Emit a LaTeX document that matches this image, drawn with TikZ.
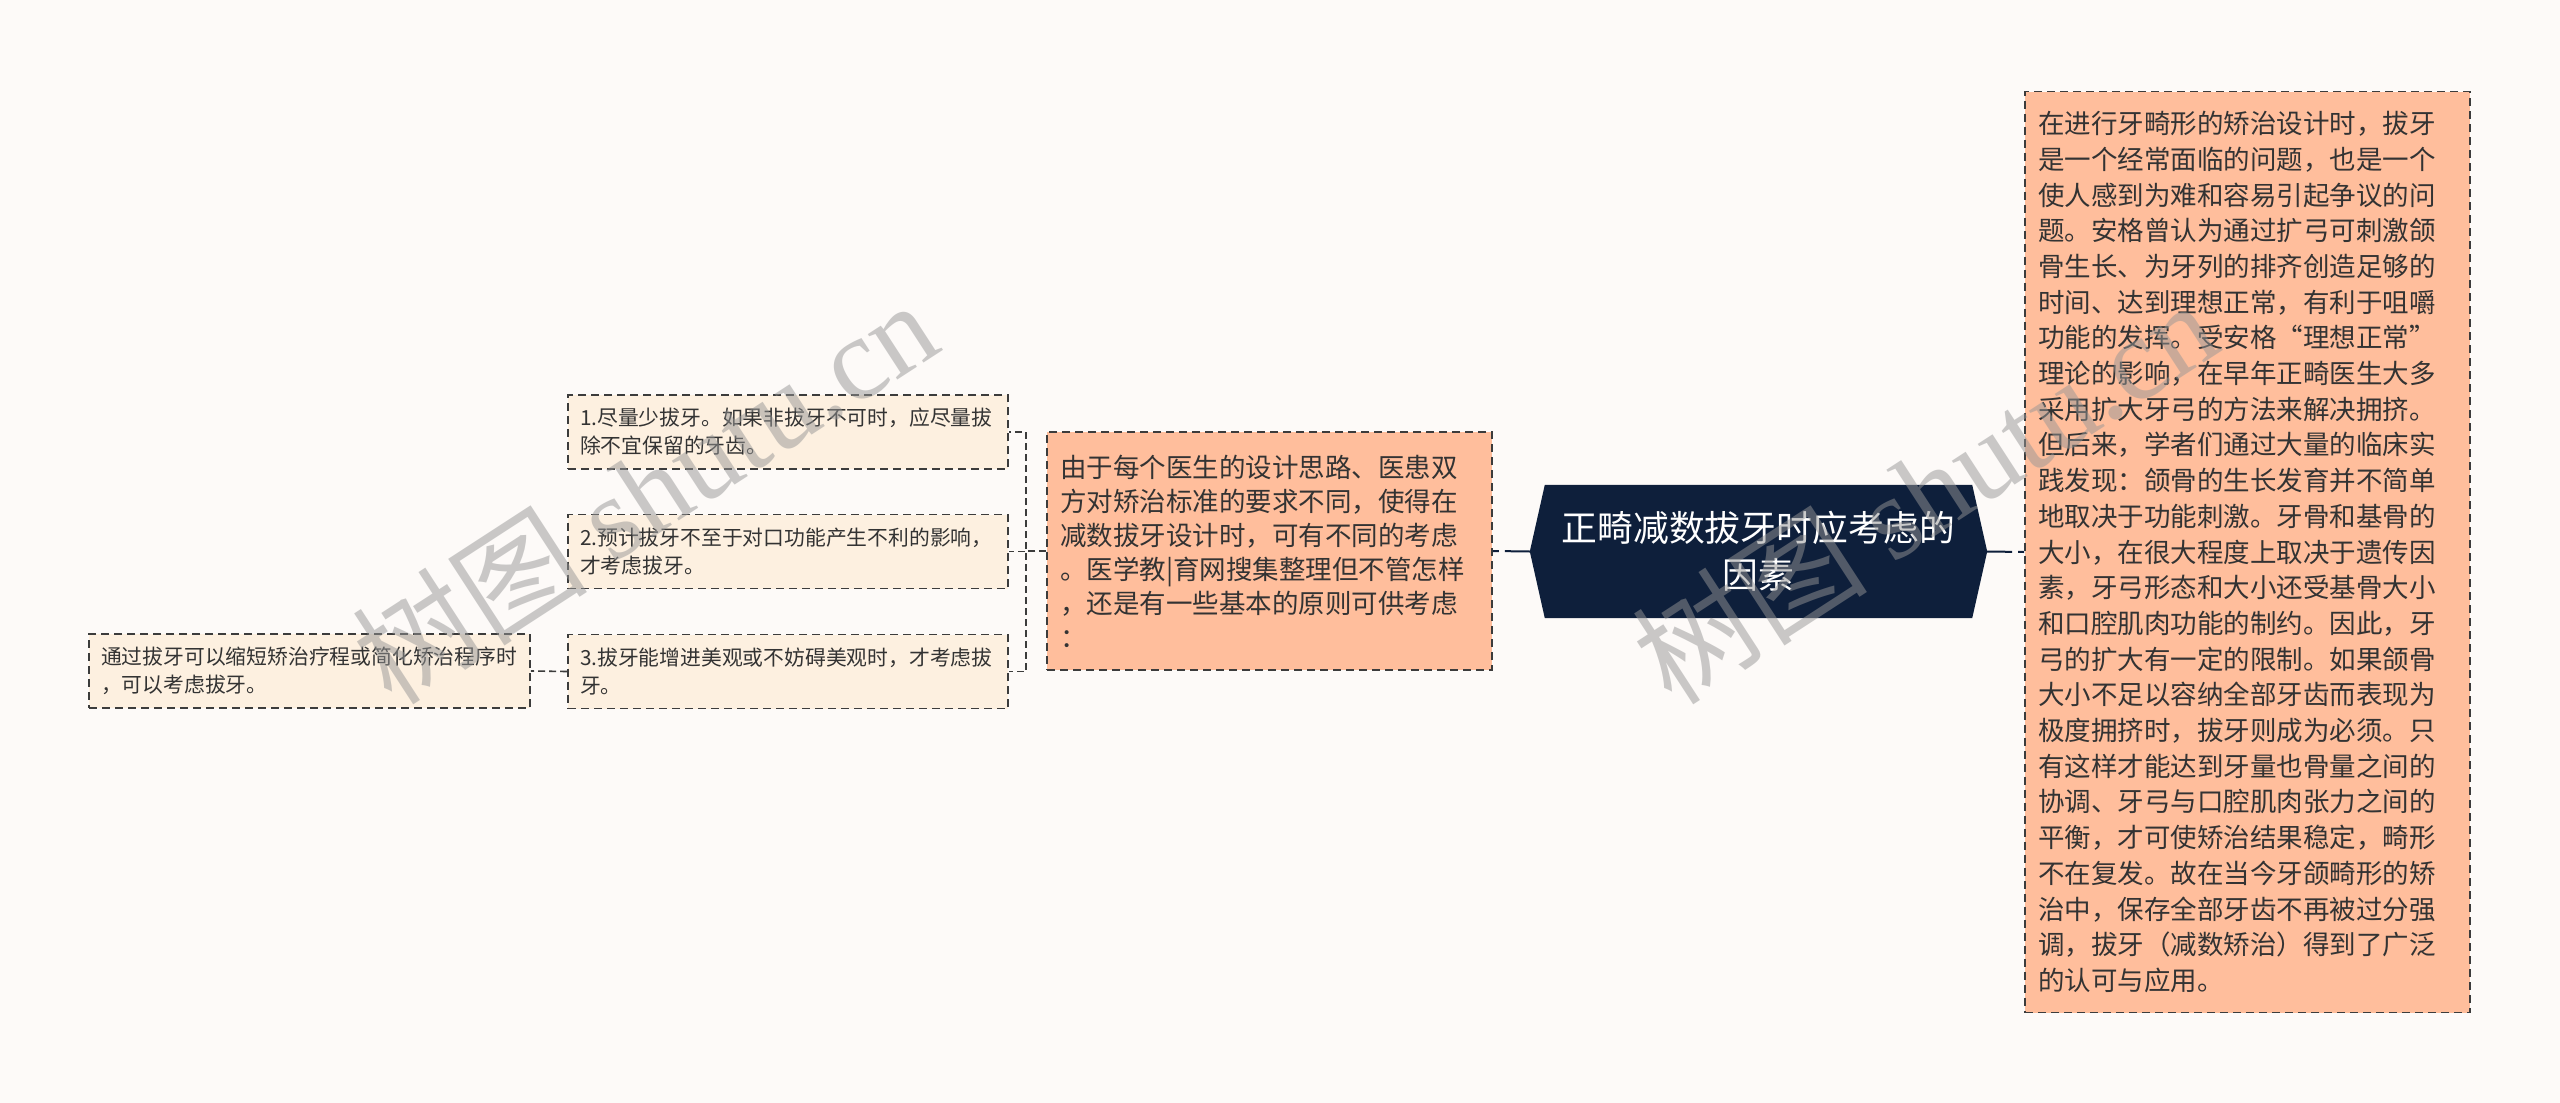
\documentclass[tikz,border=0pt]{standalone}
\usepackage{fontspec}
\setmainfont{Noto Sans CJK SC}
\newfontfamily\wmlatin{Liberation Serif}
\usetikzlibrary{backgrounds}
\definecolor{bgc}{HTML}{FDFAF8}
\definecolor{navy}{HTML}{0E1F3B}
\definecolor{salmon}{HTML}{FFBE9C}
\definecolor{cream}{HTML}{FDF0E0}
\definecolor{edgec}{HTML}{3C3C3C}
\definecolor{txt}{HTML}{333333}
\definecolor{wmc}{RGB}{150,150,150}
\begin{document}
\begin{tikzpicture}[x=1pt,y=-1pt,
  box/.style={draw=edgec, line width=1.6pt, dash pattern=on 8pt off 5pt, text=txt, align=left, anchor=center, inner ysep=0pt},
  bigbox/.style={box, fill=salmon, font=\fontsize{26.5}{35.7}\selectfont, inner xsep=13pt, text width=419pt},
  smallbox/.style={box, fill=cream, font=\fontsize{20.8}{28}\selectfont, inner xsep=12pt, text width=416pt, minimum height=74pt},
  conn/.style={draw=edgec, line width=1.6pt, dash pattern=on 7pt off 4pt},
  mainconn/.style={draw=navy, line width=2pt, dash pattern=on 25pt off 6pt},
  centerbox/.style={text=white, align=center, minimum width=457pt, minimum height=133pt, inner sep=0pt, font=\fontsize{35.8}{46.7}\selectfont},
  wm/.style={text=wmc, text opacity=0.5, anchor=base west, rotate=33, inner sep=0pt, font=\fontsize{118}{118}\selectfont}
]
\useasboundingbox (0,0) rectangle (2560,1103);
\begin{scope}[on background layer]
  \fill[bgc] (0,0) rectangle (2560,1103);
\end{scope}

\node[centerbox] (c) at (1758.5,551.5) {正畸减数拔牙时应考虑的\\因素};
\begin{scope}[on background layer]
  \fill[navy] (c.west) -- ([xshift=15pt]c.north west) -- ([xshift=-15pt]c.north east) -- (c.east)
    -- ([xshift=-15pt]c.south east) -- ([xshift=15pt]c.south west) -- cycle;
\end{scope}

\node[bigbox, minimum height=921pt] (r) at (2247.5,552) {在进行牙畸形的矫治设计时，拔牙\\是一个经常面临的问题，也是一个\\使人感到为难和容易引起争议的问\\题。安格曾认为通过扩弓可刺激颌\\骨生长、为牙列的排齐创造足够的\\时间、达到理想正常，有利于咀嚼\\功能的发挥。受安格“理想正常”\\理论的影响，在早年正畸医生大多\\采用扩大牙弓的方法来解决拥挤。\\但后来，学者们通过大量的临床实\\践发现：颌骨的生长发育并不简单\\地取决于功能刺激。牙骨和基骨的\\大小，在很大程度上取决于遗传因\\素，牙弓形态和大小还受基骨大小\\和口腔肌肉功能的制约。因此，牙\\弓的扩大有一定的限制。如果颌骨\\大小不足以容纳全部牙齿而表现为\\极度拥挤时，拔牙则成为必须。只\\有这样才能达到牙量也骨量之间的\\协调、牙弓与口腔肌肉张力之间的\\平衡，才可使矫治结果稳定，畸形\\不在复发。故在当今牙颌畸形的矫\\治中，保存全部牙齿不再被过分强\\调，拔牙（减数矫治）得到了广泛\\的认可与应用。};

\node[bigbox, font=\fontsize{26.5}{34}\selectfont, minimum height=238pt] (m) at (1269.5,551) {由于每个医生的设计思路、医患双\\方对矫治标准的要求不同，使得在\\减数拔牙设计时，可有不同的考虑\\。医学教|育网搜集整理但不管怎样\\，还是有一些基本的原则可供考虑\\：};

\node[smallbox] (a1) at (788,432) {1.尽量少拔牙。如果非拔牙不可时，应尽量拔\\除不宜保留的牙齿。};
\node[smallbox] (a2) at (788,551.5) {2.预计拔牙不至于对口功能产生不利的影响，\\才考虑拔牙。};
\node[smallbox] (a3) at (788,671.5) {3.拔牙能增进美观或不妨碍美观时，才考虑拔\\牙。};
\node[smallbox, text width=417pt] (l) at (309.5,671) {通过拔牙可以缩短矫治疗程或简化矫治程序时\\，可以考虑拔牙。};

\draw[mainconn] (c.west) -- (m.east);
\draw[mainconn] (c.east) -- (r.west);
\draw[conn] (m.west) -- ++(-20,0) |- (a1.east);
\draw[conn] (m.west) -- ++(-20,0) |- (a2.east);
\draw[conn] (m.west) -- ++(-20,0) |- (a3.east);
\draw[conn] (a3.west) -- (l.east);

\node[wm] (w1) at (392,708) {树图 {\wmlatin shutu.cn}};
\node[wm] (w2) at (1672,708) {树图 {\wmlatin shutu.cn}};
\end{tikzpicture}
\end{document}
